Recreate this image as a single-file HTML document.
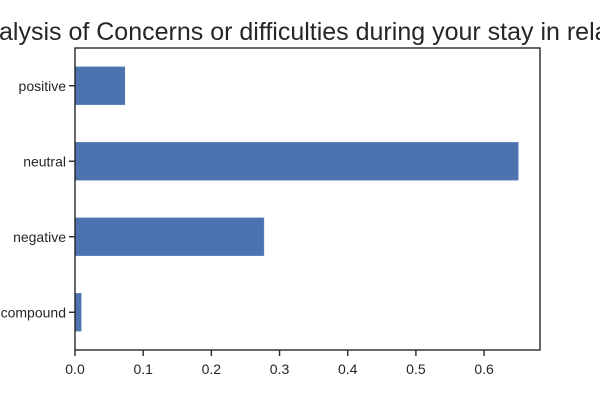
<!DOCTYPE html>
<html><head><meta charset="utf-8"><style>
body{margin:0;background:#fff;}
svg{display:block;font-family:"Liberation Sans",Arial,sans-serif;}
</style></head><body>
<svg id="chart" width="600" height="400">
<text x="-1" y="40" font-size="25" fill="#262626">alysis of Concerns or difficulties during your stay in relation</text>
<g id="bars"></g>
<rect x="75" y="48" width="465" height="302" fill="none" stroke="#262626" stroke-width="1.4"/>
<g id="axes"></g>
</svg>
<script>
const categories = ["positive","neutral","negative","compound"];
const values = [0.073, 0.650, 0.277, 0.009];
const xTicks = [0,0.1,0.2,0.3,0.4,0.5,0.6];
const xTickLabels = ["0.0","0.1","0.2","0.3","0.4","0.5","0.6"];

const NS="http://www.w3.org/2000/svg";
const L=75,R=540,T=48,B=350;
const xMax=0.682;
function xs(v){return L+v/xMax*(R-L);}
const step=(B-T)/categories.length;
function ys(i){return T+step*(i+0.5);}
const bars=document.getElementById('bars'), axes=document.getElementById('axes');
function mk(tag,attrs,parent){const e=document.createElementNS(NS,tag);for(const k in attrs)e.setAttribute(k,attrs[k]);parent.appendChild(e);return e;}
const bh=step*0.5;
categories.forEach((c,i)=>{
  const r=mk('rect',{x:xs(0),y:ys(i)-bh/2,width:xs(values[i])-xs(0),height:bh,fill:'#4c72b0',stroke:'#5a7fbf','stroke-width':0.6},bars);
  
  
  const t=mk('line',{x1:L-6,x2:L,y1:ys(i),y2:ys(i),stroke:'#262626','stroke-width':1.4},axes);
  
  
  const lb=mk('text',{x:L-9,y:ys(i)+5,'text-anchor':'end','font-size':14,fill:'#262626'},axes);
  lb.textContent=c;
  
  
});
xTicks.forEach((v,i)=>{
  const t=mk('line',{x1:xs(v),x2:xs(v),y1:B,y2:B+6,stroke:'#262626','stroke-width':1.4},axes);
  
  
  const lb=mk('text',{x:xs(v),y:B+24,'text-anchor':'middle','font-size':14,fill:'#262626'},axes);
  lb.textContent=xTickLabels[i];
  
  
});
</script>
</body></html>
